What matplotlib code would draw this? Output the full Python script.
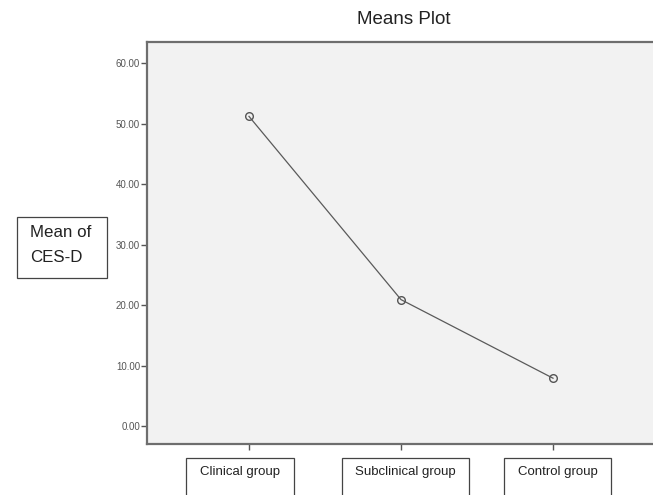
"""
SPSS-style means plot of CES-D scores by group
"""

import matplotlib
matplotlib.use("Agg")
import matplotlib.pyplot as plt
from matplotlib.patches import Rectangle

# data
groups = ["Clinical group", "Subclinical group", "Control group"]
means = [51.2, 20.9, 7.9]
y_ticks = [0, 10, 20, 30, 40, 50, 60]

W, H = 653, 495

plt.rcParams['font.family'] = ['Liberation Sans', 'DejaVu Sans']

fig = plt.figure(figsize=(W / 100, H / 100), dpi=100)

# axes: left 147px, top 42px, bottom 444px, right runs off the image
left, top, bottom, right = 147, 42, 444, 662
ax = fig.add_axes([left / W, 1 - bottom / H, (right - left) / W, (bottom - top) / H])
ax.set_facecolor("#f2f2f2")

x = list(range(len(groups)))
ax.plot(x, means, color="#5a5a5a", linewidth=0.9,
        marker="o", markersize=5.5, markerfacecolor="none",
        markeredgecolor="#555555", markeredgewidth=1.0)

ax.set_xlim(-0.671, 2.717)
ax.set_ylim(-2.98, 63.5)

ax.set_yticks(y_ticks)
ax.set_yticklabels(["%.2f" % v for v in y_ticks], fontsize=7, color="#555555")
ax.set_xticks(x)
ax.set_xticklabels([])

for side in ["left", "bottom", "top", "right"]:
    ax.spines[side].set_color("#6e6e6e")
    ax.spines[side].set_linewidth(1.6)
ax.tick_params(axis="both", direction="out", length=4, width=1, color="#555555", pad=1)

# title
fig.text(404 / W, 1 - 20 / H, "Means Plot", ha="center", va="center",
         fontsize=13.5, color="#222222")

# y label box
fig.patches.append(Rectangle((17 / W, 1 - 278 / H), 90 / W, 61 / H,
                             transform=fig.transFigure, fill=False,
                             edgecolor="#444444", linewidth=0.9))
fig.text(30 / W, 1 - 233 / H, "Mean of", ha="left", va="center", fontsize=12.2, color="#222222")
fig.text(30 / W, 1 - 257 / H, "CES-D", ha="left", va="center", fontsize=12.2, color="#222222")

# x label boxes
boxes = [(186, 294), (342, 469), (504, 611)]
for (x0, x1), name in zip(boxes, groups):
    fig.patches.append(Rectangle((x0 / W, -0.05), (x1 - x0) / W, 1 - 458 / H + 0.05,
                                 transform=fig.transFigure, fill=False,
                                 edgecolor="#444444", linewidth=0.9))
    fig.text((x0 + x1) / 2 / W, 1 - 472 / H, name, ha="center", va="center",
             fontsize=9.5, color="#222222")

fig.savefig("out.png", dpi=100)
